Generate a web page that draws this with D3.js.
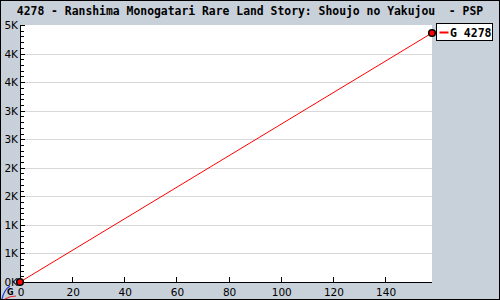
<!DOCTYPE html>
<html>
<head>
<meta charset="utf-8">
<style>
body { margin: 0; background: #fff; }
svg { display: block; }
.title { font-family: 'DejaVu Sans Mono', monospace; font-weight: bold; font-size: 11.4px; white-space: pre; }
.tick-label { font-family: 'DejaVu Sans', sans-serif; font-size: 10.5px; fill: #000; }
.legend-text { font-family: 'DejaVu Sans Mono', monospace; font-weight: bold; font-size: 11.5px; white-space: pre; }
</style>
</head>
<body>
<svg width="500" height="300"></svg>
<script src="https://d3js.org/d3.v7.min.js"></script>
<script>
var titleText = "4278 - Ranshima Monogatari Rare Land Story: Shoujo no Yakujou  - PSP";
var weeks = [0, 158];
var totals = [0, 4278];
var legendLabel = "G 4278";
var xTicks = [0, 20, 40, 60, 80, 100, 120, 140];
var yTicks = [0, 491, 981, 1472, 1962, 2453, 2943, 3434, 3924, 4415];
var yTickLabels = ["0K", "1K", "1K", "2K", "2K", "3K", "3K", "4K", "4K", "5K"];

var svg = d3.select("svg"),
    width = +svg.attr("width"),
    height = +svg.attr("height");

var plot = { left: 20, right: 432, top: 25, bottom: 282 };

var x = d3.scaleLinear().domain([0, 158]).range([plot.left, plot.right]);
var y = d3.scaleLinear().domain([0, 4415]).range([plot.bottom, plot.top]);

// background + frame
svg.append("rect").attr("width", width).attr("height", height).attr("fill", "#c8d0da");
svg.append("rect").attr("x", 0.5).attr("y", 0.5).attr("width", width - 1).attr("height", height - 1)
  .attr("fill", "none").attr("stroke", "#000");

svg.append("rect")
  .attr("x", plot.left).attr("y", plot.top)
  .attr("width", plot.right - plot.left).attr("height", plot.bottom - plot.top)
  .attr("fill", "#fff");

svg.append("text").attr("class", "title")
  .attr("x", 250).attr("y", 15).attr("text-anchor", "middle")
  .text(titleText);

// grid
svg.selectAll(".grid").data(yTicks.slice(1, -1)).enter().append("line")
  .attr("x1", plot.left + 5).attr("x2", plot.right)
  .attr("y1", function(d) { return Math.round(y(d)) + 0.5; })
  .attr("y2", function(d) { return Math.round(y(d)) + 0.5; })
  .attr("stroke", "#d8d8d8");

// y minor ticks
var minor = [];
for (var i = 0; i < yTicks.length - 1; i++) {
  for (var k = 1; k < 5; k++) minor.push(yTicks[i] + (yTicks[i + 1] - yTicks[i]) * k / 5);
}
svg.selectAll(".minor").data(minor).enter().append("line")
  .attr("x1", plot.left).attr("x2", plot.left + 4)
  .attr("y1", function(d) { return Math.round(y(d)) + 0.5; })
  .attr("y2", function(d) { return Math.round(y(d)) + 0.5; })
  .attr("stroke", "#000");

svg.selectAll(".major").data(yTicks).enter().append("line")
  .attr("x1", plot.left).attr("x2", plot.left + 5)
  .attr("y1", function(d) { return Math.round(y(d)) + 0.5; })
  .attr("y2", function(d) { return Math.round(y(d)) + 0.5; })
  .attr("stroke", "#000");

svg.selectAll(".ylab").data(yTicks).enter().append("text")
  .attr("class", "tick-label")
  .attr("x", plot.left - 2).attr("y", function(d) { return y(d) + 4; })
  .attr("text-anchor", "end")
  .text(function(d, i) { return yTickLabels[i]; });

// x ticks
svg.selectAll(".xtick").data(xTicks).enter().append("line")
  .attr("x1", function(d) { return Math.round(x(d)) + 0.5; })
  .attr("x2", function(d) { return Math.round(x(d)) + 0.5; })
  .attr("y1", plot.bottom - 5).attr("y2", plot.bottom)
  .attr("stroke", "#000");

svg.selectAll(".xlab").data(xTicks).enter().append("text")
  .attr("class", "tick-label")
  .attr("x", function(d) { return x(d) + 1; }).attr("y", 296)
  .attr("text-anchor", "middle")
  .text(function(d) { return d; });

// axes lines
svg.append("line").attr("x1", plot.left + 0.5).attr("x2", plot.left + 0.5)
  .attr("y1", plot.top).attr("y2", plot.bottom + 1).attr("stroke", "#000");
svg.append("line").attr("x1", plot.left).attr("x2", plot.right)
  .attr("y1", plot.bottom + 0.5).attr("y2", plot.bottom + 0.5).attr("stroke", "#000");

// small logo bottom-left
svg.append("path").attr("d", "M2,299 Q4,290 10,286").attr("fill", "none").attr("stroke", "#2040e0").attr("stroke-width", 1.2);
svg.append("path").attr("d", "M5,299 Q10,296 16,296").attr("fill", "none").attr("stroke", "#e03030").attr("stroke-width", 1.2);
svg.append("text").attr("x", 7).attr("y", 295).attr("font-family", "DejaVu Sans").attr("font-weight", "bold")
  .attr("font-size", "8px").text("G");

// series
var pts = weeks.map(function(w, i) { return [w, totals[i]]; });
var line = d3.line().x(function(d) { return x(d[0]); }).y(function(d) { return y(d[1]); });
svg.append("path").datum(pts).attr("d", line).attr("fill", "none").attr("stroke", "#ff0000").attr("stroke-width", 1);

svg.selectAll(".pt").data(pts).enter().append("circle")
  .attr("cx", function(d) { return x(d[0]); })
  .attr("cy", function(d) { return y(d[1]); })
  .attr("r", 3.3).attr("fill", "#ff0000").attr("stroke", "#000").attr("stroke-width", 1.5);

// legend
var lg = svg.append("g").attr("transform", "translate(436.5,23.5)");
lg.append("rect").attr("width", 56).attr("height", 17).attr("fill", "#fff").attr("stroke", "#000");
lg.append("line").attr("x1", 3).attr("x2", 12).attr("y1", 9).attr("y2", 9).attr("stroke", "#ff0000").attr("stroke-width", 2);
lg.append("text").attr("class", "legend-text").attr("x", 13.5).attr("y", 13).text(legendLabel);
</script>
</body>
</html>
